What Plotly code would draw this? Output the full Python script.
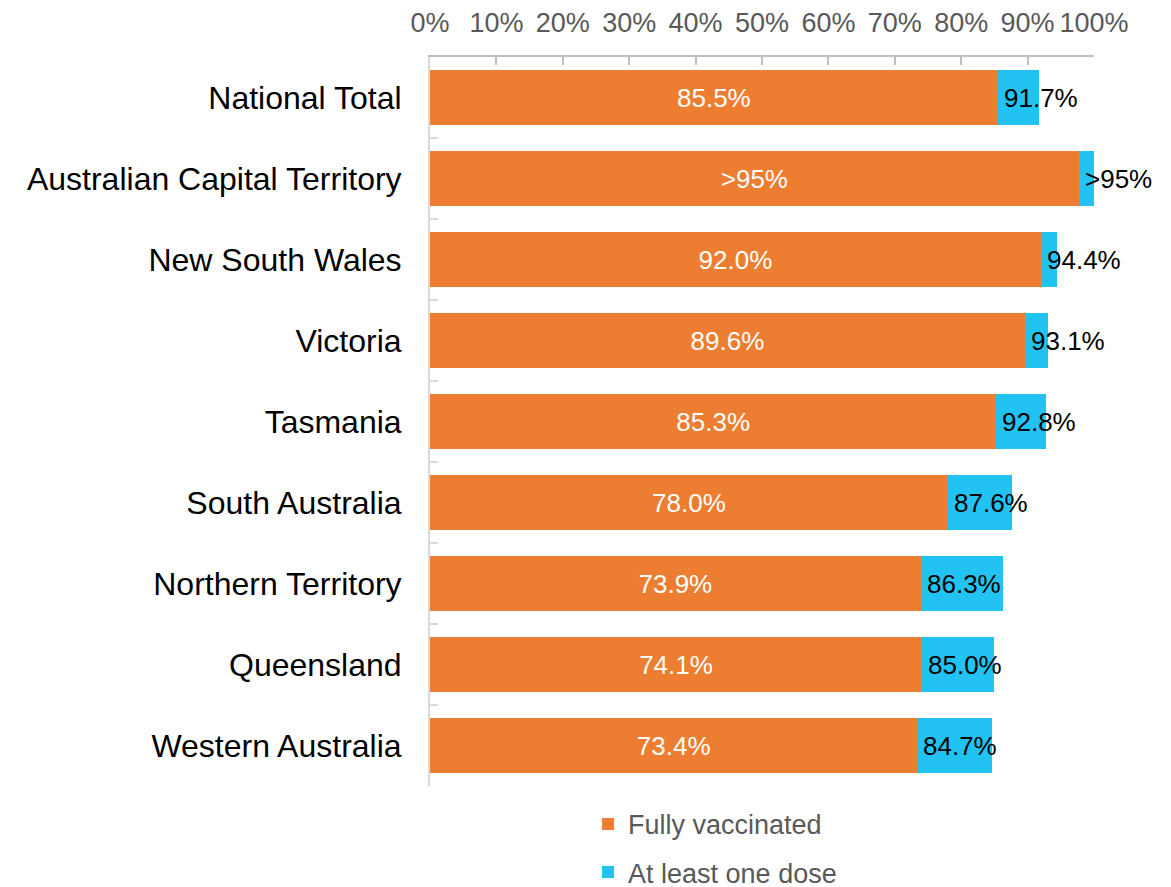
import plotly.graph_objects as go

categories = ["National Total", "Australian Capital Territory", "New South Wales", "Victoria",
              "Tasmania", "South Australia", "Northern Territory", "Queensland", "Western Australia"]
fully = [85.5, 97.7, 92.0, 89.6, 85.3, 78.0, 73.9, 74.1, 73.4]
one_dose = [91.7, 100.0, 94.4, 93.1, 92.8, 87.6, 86.3, 85.0, 84.7]
fully_labels = ["85.5%", ">95%", "92.0%", "89.6%", "85.3%", "78.0%", "73.9%", "74.1%", "73.4%"]
one_labels = ["91.7%", ">95%", "94.4%", "93.1%", "92.8%", "87.6%", "86.3%", "85.0%", "84.7%"]
tick_vals = [0, 10, 20, 30, 40, 50, 60, 70, 80, 90, 100]
tick_text = [f"{v}%" for v in tick_vals]

extra = [o - f for o, f in zip(one_dose, fully)]

ORANGE = "#ED7D31"
BLUE = "#22C3F3"
FONT = "Liberation Sans, Arial, sans-serif"

fig = go.Figure()
fig.add_trace(go.Bar(
    y=categories, x=fully, orientation="h", name="Fully vaccinated",
    marker=dict(color=ORANGE, line=dict(width=0)),
    text=fully_labels, textposition="inside", insidetextanchor="middle",
    textfont=dict(color="white", size=26, family=FONT),
    legendgroup="a", width=0.68,
))
fig.add_trace(go.Bar(
    y=categories, x=extra, orientation="h", name="At least one dose",
    marker=dict(color=BLUE, line=dict(width=0)),
    legendgroup="b", width=0.68, hoverinfo="skip",
))

for cat, f, lab in zip(categories, fully, one_labels):
    fig.add_annotation(x=f, y=cat, text=lab, showarrow=False, xanchor="left",
                       xshift=4, font=dict(color="black", size=26, family=FONT))

fig.update_layout(
    width=1171, height=910,
    margin=dict(l=422, r=85, t=49, b=132),
    barmode="stack",
    plot_bgcolor="white", paper_bgcolor="white",
    font=dict(family=FONT),
    showlegend=True,
    legend=dict(orientation="v", x=0.238, xanchor="left", y=-0.019, yanchor="top",
                font=dict(size=27, color="#595959", family=FONT),
                traceorder="grouped", tracegroupgap=10, bgcolor="rgba(0,0,0,0)"),
    xaxis=dict(range=[0, 100], side="top", tickvals=tick_vals, ticktext=tick_text,
               showgrid=False, zeroline=False, showline=True, linecolor="#BFBFBF", linewidth=2,
               ticks="inside", ticklen=8, tickcolor="#BFBFBF", tickwidth=2, automargin=False,
               tickfont=dict(size=27, color="#595959", family=FONT), ticklabelstandoff=12),
    yaxis=dict(autorange="reversed", showgrid=False, zeroline=False, showline=True,
               linecolor="#D9D9D9", linewidth=2, ticks="inside", ticklen=8, tickcolor="#D9D9D9",
               tickwidth=2, tickson="boundaries", automargin=False,
               tickfont=dict(size=32, color="black", family=FONT), ticklabelstandoff=20),
)

fig.write_html("out.html")
